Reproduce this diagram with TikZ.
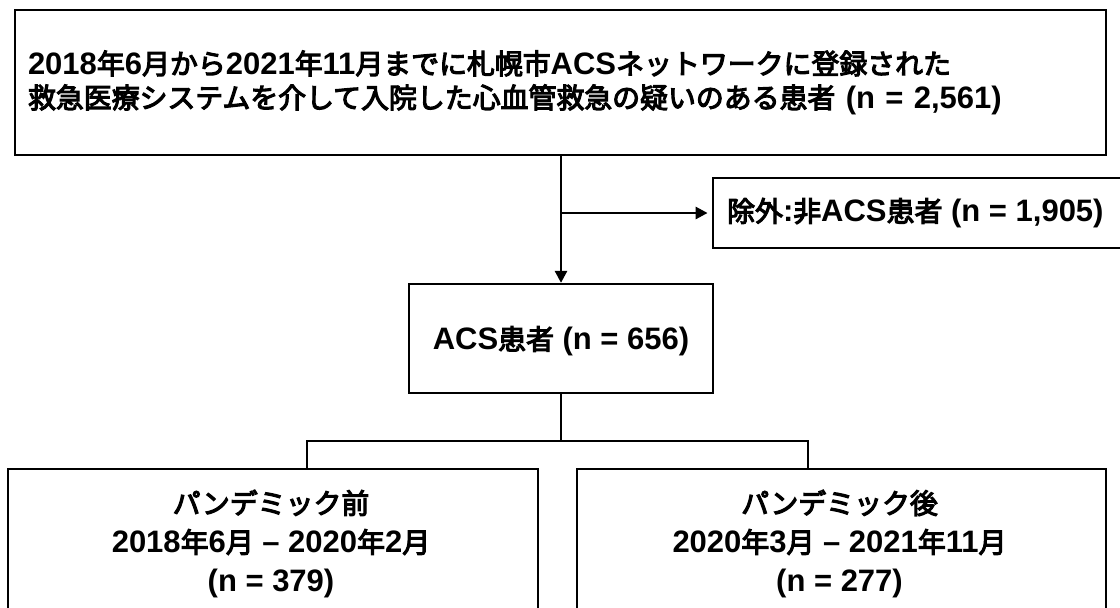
\documentclass[tikz,border=0pt]{standalone}
\usepackage{fontspec}
\setmainfont{Liberation Sans}
\newfontfamily\jpfont{Noto Sans CJK JP}[Scale=0.9, FakeBold=4]
\newcommand\J[1]{{\jpfont\mdseries #1}}
\usetikzlibrary{arrows.meta}
\tikzset{
  box/.style={draw, line width=2.8pt, inner sep=0pt},
  thinbox/.style={draw, line width=2.3pt, inner sep=0pt},
  txt/.style={inner sep=0pt, align=center, font=\fontsize{31}{39}\selectfont\bfseries},
  conn/.style={line width=2.7pt},
  lowconn/.style={line width=2.2pt},
  arr/.style={conn, -{Triangle[length=12pt,width=12pt]}},
}
\begin{document}
\begin{tikzpicture}[x=1pt,y=-1pt]
\useasboundingbox (0,0) rectangle (1120,608);
% top box
\node[box, minimum width=1091pt, minimum height=145pt, text width=1065pt, align=left,
      font=\fontsize{31}{34}\selectfont\bfseries] (top) at (560.5,82.5)
  {2018\J{年}6\J{月から}2021\J{年}11\J{月までに札幌市}ACS\J{ネットワークに登録された}\\
   \J{救急医療システムを介して入院した心血管救急の疑いのある患者} (n = 2,561)};
% exclusion box
\node[box, minimum width=417pt, minimum height=70pt] (excl) at (921.5,213) {};
\node[txt, anchor=west] (excltxt) at (727,213) {\J{除外}:\J{非}ACS\J{患者} (n = 1,905)};
% ACS box
\node[thinbox, minimum width=304pt, minimum height=109pt] (acs) at (561,338.5) {};
\node[txt] (acstxt) at (561,341) {ACS\J{患者} (n = 656)};
% bottom boxes
\node[box, minimum width=530pt, minimum height=171pt] (pre) at (273,554.5) {};
\node[txt] (pretxt) at (271,544) {\J{パンデミック前}\\2018\J{年}6\J{月} – 2020\J{年}2\J{月}\\(n = 379)};
\node[box, minimum width=529pt, minimum height=171pt] (post) at (841.5,554.5) {};
\node[txt] (posttxt) at (839.5,544) {\J{パンデミック後}\\2020\J{年}3\J{月} – 2021\J{年}11\J{月}\\(n = 277)};
% connectors
\draw[arr] (top.south -| acs.north) -- (acs.north);
\draw[arr, shorten >=4pt] (acs.north |- excl.west) -- (excl.west);
\coordinate (barL) at (307,441);
\coordinate (barR) at (808,441);
\draw[lowconn] (acs.south) -- (acs.south |- barL);
\draw[lowconn] (pre.north -| barL) -- (barL) -- (barR) -- (post.north -| barR);
\end{tikzpicture}
\end{document}
